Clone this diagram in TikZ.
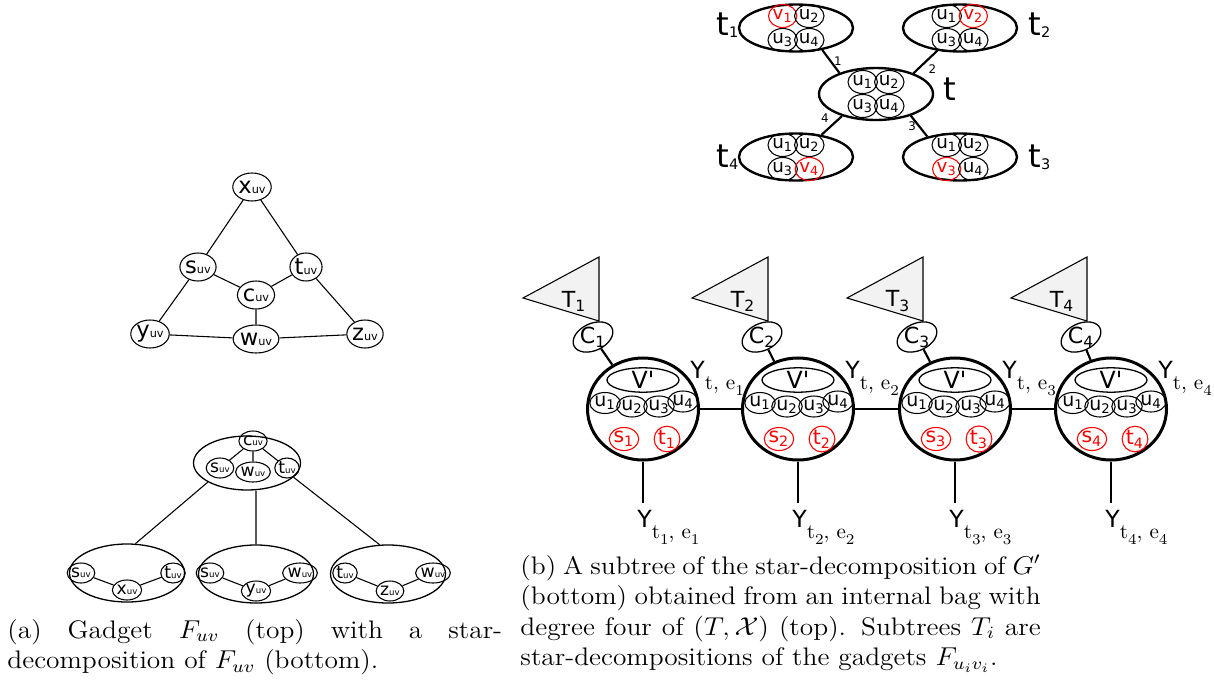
\documentclass[tikz,border=0pt]{standalone}
\usepackage{fontspec}
\usepackage{graphicx}
\usetikzlibrary{shapes.geometric}
\newfontfamily\dvs{DejaVu Sans}
\newlength{\px}
\setlength{\px}{0.465pt}
\newcommand{\fsz}[1]{\fontsize{#1}{#1}\selectfont}
\newcommand{\uv}{\scalebox{.5}{uv}}
\newcommand{\ysub}[1]{Y\raisebox{-5.5pt}{\rmfamily\fsz{9.8}#1}}
\newcommand{\isub}[1]{\raisebox{-2.5pt}{\fsz{7}#1}}
\newcommand{\tsub}[1]{\raisebox{-1pt}{\scalebox{.45}{#1}}}

\begin{document}
\begin{tikzpicture}[x=\px,y=-\px,
  gv/.style={draw,ellipse,line width=.5pt,inner sep=0pt,minimum width=31*\px,minimum height=28*\px,font=\dvs\fsz{10.5}},
  sv/.style={draw,ellipse,line width=.5pt,inner sep=0pt,minimum width=23*\px,minimum height=20*\px,font=\dvs\fsz{8}},
  sbag/.style={draw,ellipse,line width=.6pt,minimum width=115*\px,minimum height=58*\px},
  tbag/.style={draw,ellipse,line width=1.1pt,minimum width=114*\px,minimum height=47*\px},
  qv/.style={draw,ellipse,line width=.5pt,inner sep=0pt,minimum width=26*\px,minimum height=23*\px,font=\dvs\fsz{8.5}},
  tlab/.style={anchor=base west,inner sep=0pt,font=\dvs\fsz{15}},
  elab/.style={inner sep=1pt,font=\dvs\fsz{5.5}},
  bag/.style={draw,ellipse,line width=1.4pt,minimum width=111*\px,minimum height=102*\px},
  vp/.style={draw,ellipse,line width=.6pt,inner sep=0pt,minimum width=72*\px,minimum height=23*\px,font=\dvs\fsz{11}},
  bu/.style={draw,ellipse,line width=.5pt,inner sep=0pt,minimum width=23*\px,minimum height=21*\px,font=\dvs\fsz{8.8}},
  st/.style={draw=red,text=red,ellipse,line width=.5pt,inner sep=0pt,minimum width=23*\px,minimum height=23*\px,font=\dvs\fsz{9.5}},
  cbag/.style={draw,ellipse,line width=.6pt,minimum width=42*\px,minimum height=27*\px},
  ylab/.style={anchor=base west,inner sep=0pt,font=\dvs\fsz{11}},
  captext/.style={anchor=base west,inner sep=0pt,font=\fontsize{11.8}{14.2}\selectfont}]
\useasboundingbox (0,0) rectangle (1214,690);

% gadget F_uv
\node[gv] (x) at (252,187) {x\uv};
\node[gv] (s) at (198,267) {s\uv};
\node[gv] (t) at (306,267) {t\uv};
\node[gv] (c) at (256,295) {c\uv};
\node[gv] (y) at (150,334) {y\uv};
\node[gv] (w) at (256,339) {w\uv};
\node[gv] (z) at (365,334) {z\uv};
\draw[line width=.5pt] (x)--(s) (x)--(t) (s)--(c) (t)--(c) (s)--(y) (t)--(z)
  (c)--(w) (y)--(w) (w)--(z);

% star-decomposition of F_uv
\node[sbag,minimum width=107*\px,minimum height=54*\px] (B) at (247,463) {};
\node[sv] (bc) at (253,441) {c\uv};
\node[sv] (bs) at (220,468) {s\uv};
\node[sv] (bw) at (253,472) {w\uv};
\node[sv] (bt) at (287,468) {t\uv};
\draw[line width=.5pt] (bc)--(bs) (bc)--(bw) (bc)--(bt);
\node[sbag] (L1) at (127,573) {};
\node[sv] (l1s) at (81,573) {s\uv};
\node[sv] (l1x) at (127,590) {x\uv};
\node[sv] (l1t) at (173,573) {t\uv};
\node[sbag] (L2) at (256,574) {};
\node[sv] (l2s) at (210,573) {s\uv};
\node[sv] (l2y) at (256,591) {y\uv};
\node[sv] (l2w) at (300,573) {w\uv};
\node[sbag] (L3) at (388,574) {};
\node[sv] (l3t) at (345,573) {t\uv};
\node[sv] (l3z) at (390,591) {z\uv};
\node[sv] (l3w) at (433,573) {w\uv};
\draw[line width=.5pt] (l1s)--(l1x) (l1x)--(l1t) (l2s)--(l2y) (l2y)--(l2w)
  (l3t)--(l3z) (l3z)--(l3w);
\draw[line width=.5pt] (B.-154)--(L1.74) (L2)--(L2 |- B.south) (B.-17)--(L3.106);

% bag t of (T,X) and its neighbours
\foreach \b/\cx/\cy/\r/\h in {t1/796/28/1/47, t2/960/28/2/47, t/876/94/0/52,
    t4/796/157/4/47, t3/960/157/3/47}{
  \node[tbag,minimum height=\h*\px] (\b) at (\cx,\cy) {};
  \foreach \k/\dx/\dy in {1/-13.3/-12, 2/13.3/-12, 3/-13.3/12, 4/13.3/12}{
    \ifnum\k=\r
      \node[qv,draw=red,text=red] (\b-\k) at (\cx+\dx,\cy+\dy) {v\textsubscript{\k}};
    \else
      \node[qv] (\b-\k) at (\cx+\dx,\cy+\dy) {u\textsubscript{\k}};
    \fi}
}
\draw[line width=1pt] (t1.-40) -- (t.150) node[elab,midway,right] {1};
\draw[line width=1pt] (t2.-135) -- (t.29) node[elab,midway,below right] {2};
\draw[line width=1pt] (t3.148) -- (t.-32) node[elab,midway,left] {3};
\draw[line width=1pt] (t4.41) -- (t.-147) node[elab,midway,above left] {4};
\node[tlab] (lt1) at (716,35) {t\tsub{1}};
\node[tlab] (lt2) at (1028,35) {t\tsub{2}};
\node[tlab] (lt) at (943,100) {t};
\node[tlab] (lt4) at (716,167) {t\tsub{4}};
\node[tlab] (lt3) at (1028,167) {t\tsub{3}};

% subtree of the star-decomposition of G'
\foreach \i/\bx/\ax in {1/643/523, 2/798/692, 3/955/847, 4/1111/1011}{
  \filldraw[fill=black!5,line width=.5pt] (\ax,298) -- (\ax+76,257) -- (\ax+76,321) -- cycle;
  \node[font=\dvs\fsz{10.3}] (T\i) at (\ax+51,301) {T\textsubscript{\i}};
  \node[cbag,rotate=25] (c\i) at (\ax+70,337) {};
  \node[font=\dvs\fsz{10.3}] (cl\i) at (c\i) {C\textsubscript{\i}};
  \node[bag] (b\i) at (\bx,409) {};
  \node[vp] (vp\i) at (\bx,380) {V\textquotesingle};
  \node[bu] (u\i-1) at (\bx-38,403) {u\textsubscript{1}};
  \node[bu] (u\i-2) at (\bx-11,406.5) {u\textsubscript{2}};
  \node[bu] (u\i-3) at (\bx+16,406.5) {u\textsubscript{3}};
  \node[bu] (u\i-4) at (\bx+40,401.5) {u\textsubscript{4}};
  \node[st] (s\i) at (\bx-19,439) {s\textsubscript{\i}};
  \node[st] (tt\i) at (\bx+24,439) {t\textsubscript{\i}};
  \draw[line width=1pt] (c\i) -- (b\i);
  \node[ylab] (yt\i) at (\bx+47,378) {\ysub{t, e\isub{\i}}};
  \coordinate (yb\i) at (\bx,503);
  \draw[line width=.6pt] (b\i) -- (yb\i);
  \node[ylab] (ybl\i) at (\bx-6,527) {\ysub{t\isub{\i}, e\isub{\i}}};
}
\draw[line width=1pt] (b1)--(b2) (b2)--(b3) (b3)--(b4);

% captions
\node[captext] (capa) at (7,638) {\scalebox{1.08}[1]{\parbox[t]{213pt}{(a) Gadget
  $F_{uv}$ (top) with a star-\linebreak decomposition of $F_{uv}$ (bottom).}}};
\node[captext] (capb) at (520,574) {\scalebox{1.08}[1]{\parbox[t]{224pt}{(b) A
  subtree of the star-decomposition of $G'$\linebreak (bottom) obtained from an
  internal bag with\linebreak degree four of $(T,\mathcal{X})$ (top). Subtrees
  $T_i$ are\linebreak star-decompositions of the gadgets $F_{u_iv_i}$.}}};
\end{tikzpicture}
\end{document}
